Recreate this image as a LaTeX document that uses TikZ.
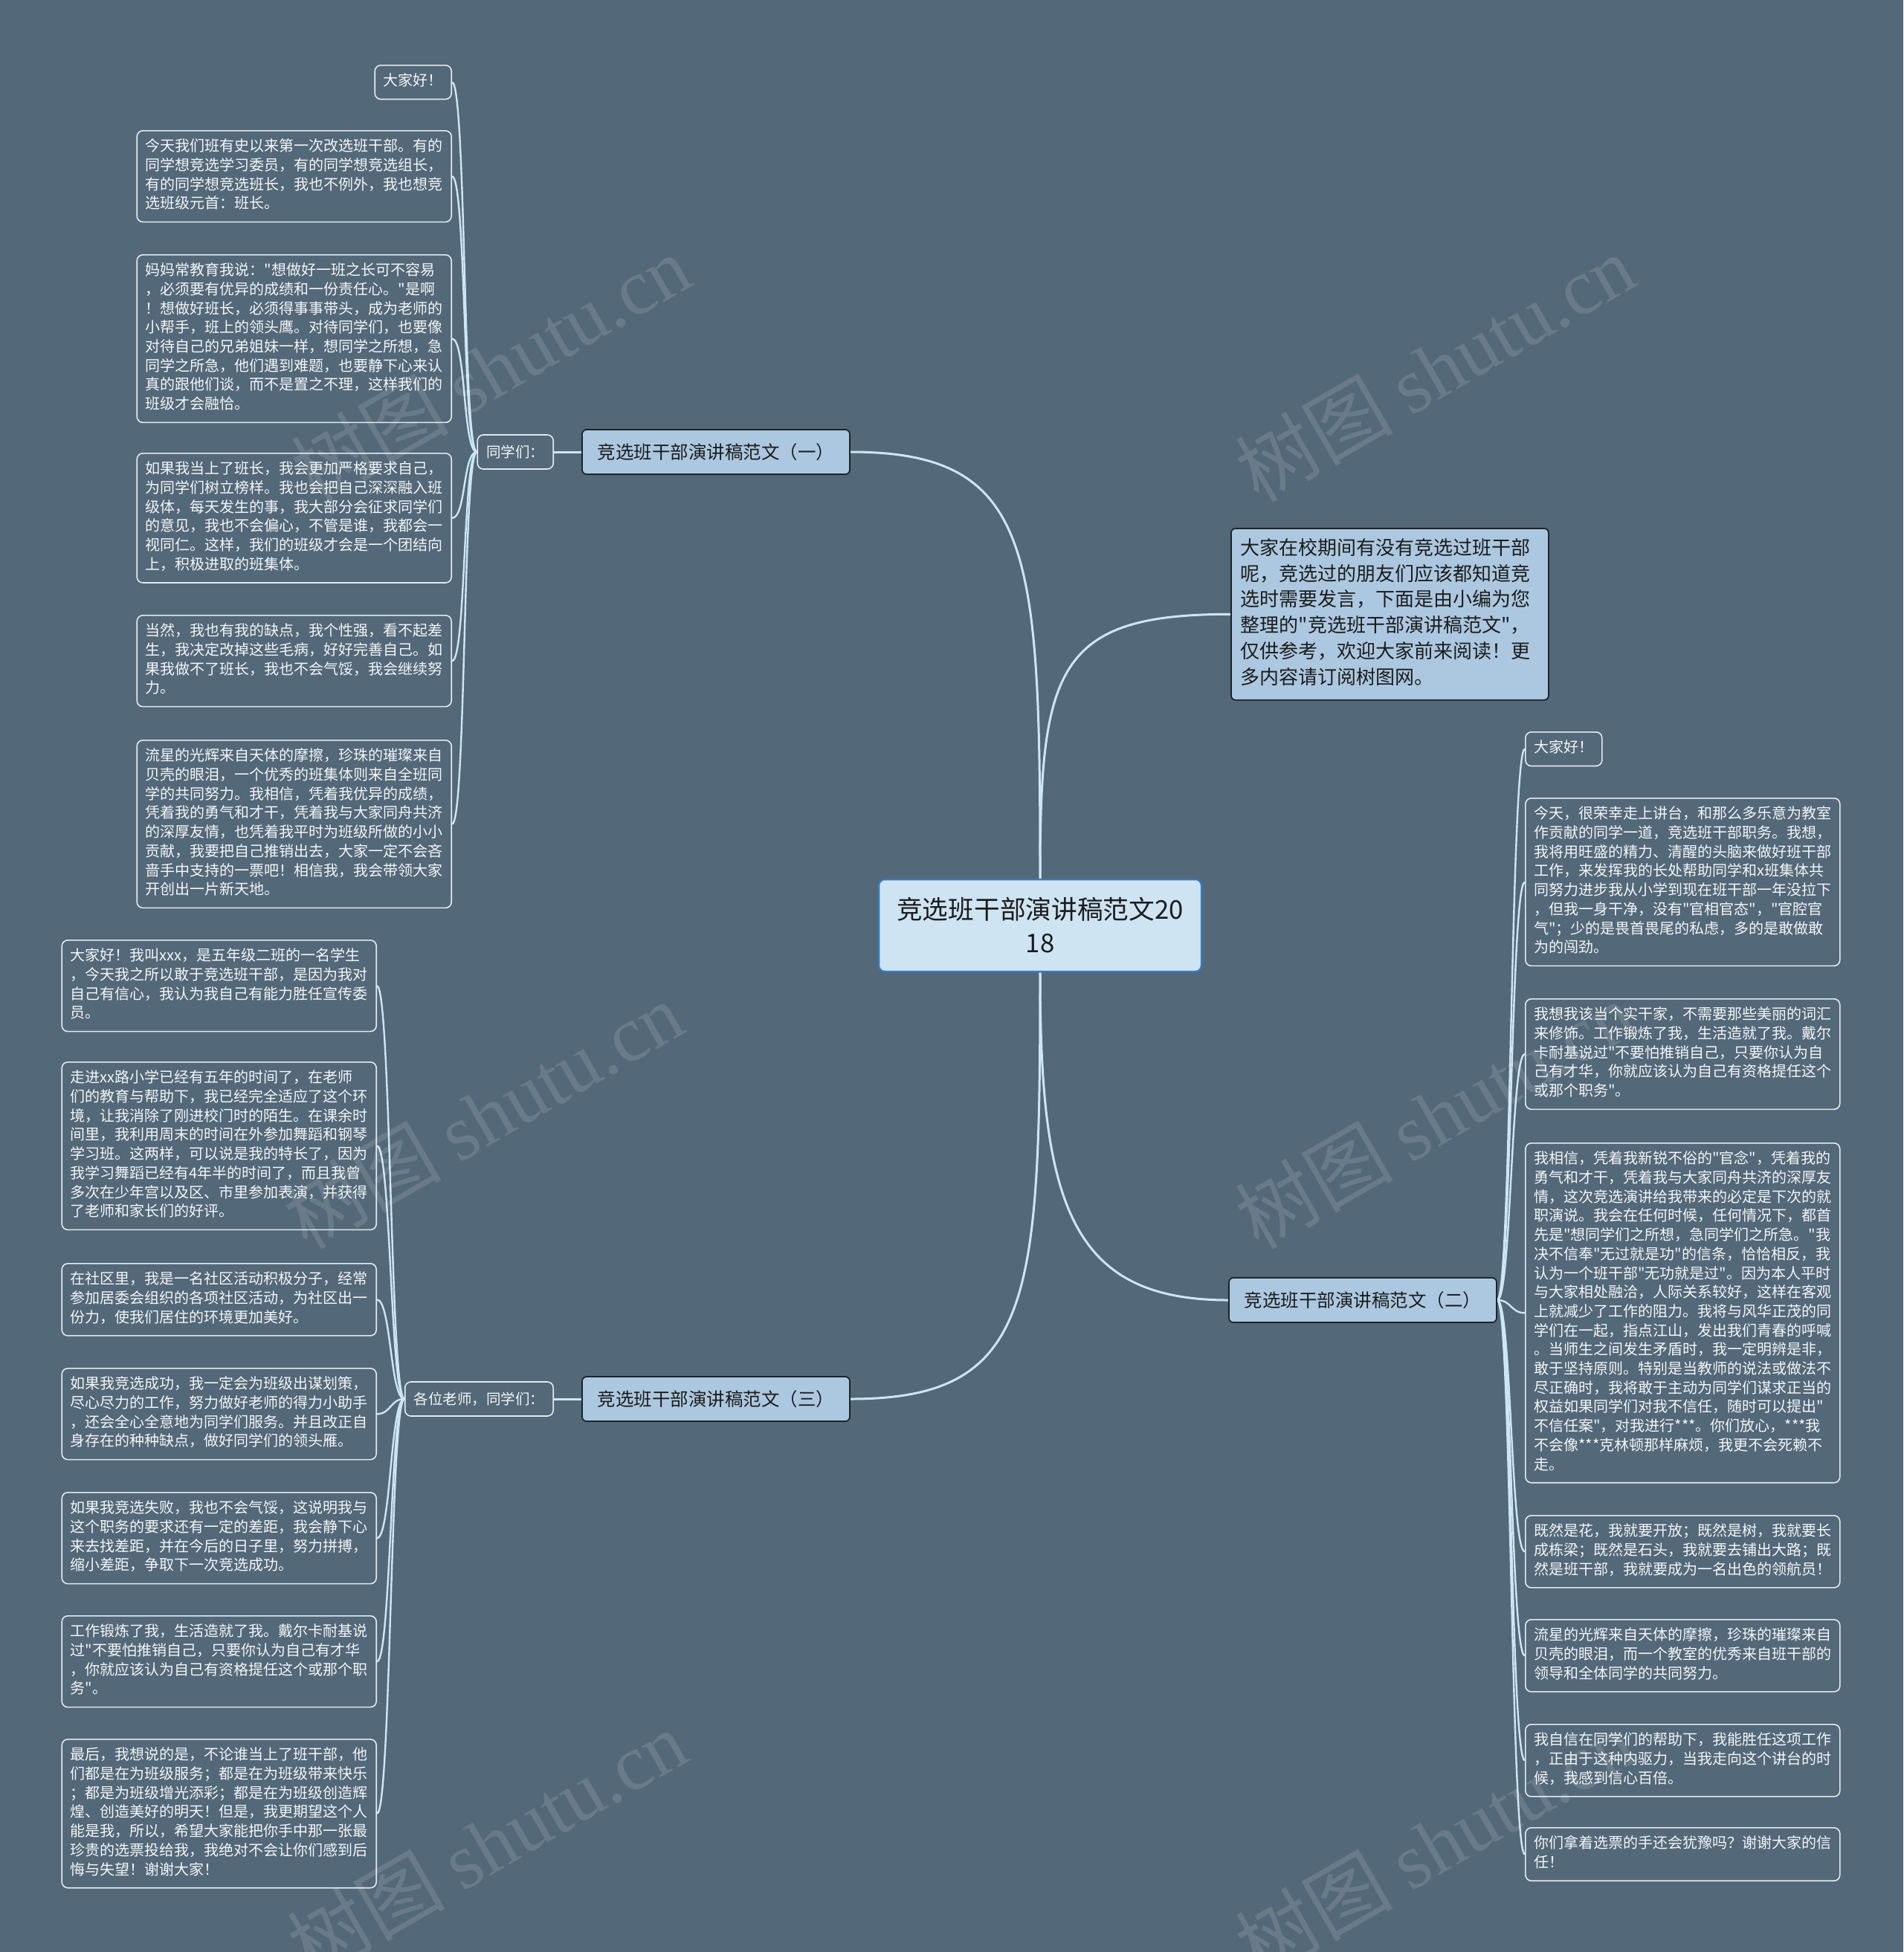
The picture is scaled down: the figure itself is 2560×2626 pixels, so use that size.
\documentclass[tikz,border=0pt]{standalone}
\usepackage{fontspec}
\newfontfamily\cjk{Noto Sans CJK SC}
\newfontfamily\wmserif{Liberation Serif}
\definecolor{bgc}{RGB}{83,104,120}
\definecolor{connc}{RGB}{205,230,245}
\definecolor{leafline}{RGB}{226,234,240}
\definecolor{leaftext}{RGB}{244,246,248}
\definecolor{brfill}{RGB}{172,200,224}
\definecolor{brline}{RGB}{28,36,44}
\definecolor{brtext}{RGB}{28,28,28}
\definecolor{ctrfill}{RGB}{206,228,243}
\definecolor{ctrline}{RGB}{58,120,192}
\pgfdeclarelayer{bgl}
\pgfdeclarelayer{edges}
\pgfsetlayers{bgl,edges,main}
\tikzset{
  leaf/.style={draw=leafline, line width=1.6pt, rounded corners=8pt, text=leaftext,
    font=\cjk\fontsize{20}{25.7}\selectfont, align=left, text width=400pt,
    inner xsep=11.5pt, inner ysep=10pt,
    execute at begin node=\strut, execute at end node=\strut},
  leafshort/.style={draw=leafline, line width=1.6pt, rounded corners=8pt, text=leaftext,
    font=\cjk\fontsize{20}{25.7}\selectfont, inner xsep=11.5pt, inner ysep=10pt,
    execute at begin node=\strut},
  hub/.style={draw=leafline, line width=1.6pt, rounded corners=8pt, text=leaftext,
    font=\cjk\fontsize{19.5}{24}\selectfont, inner xsep=12pt, inner ysep=0pt, minimum height=46pt},
  branch/.style={draw=brline, fill=brfill, line width=1.8pt, rounded corners=6pt, text=brtext,
    font=\cjk\fontsize{24.5}{30}\selectfont, minimum width=360pt, minimum height=60pt, inner sep=0pt},
  intro/.style={draw=brline, fill=brfill, line width=1.8pt, rounded corners=6pt, text=brtext,
    font=\cjk\fontsize{26}{34.8}\selectfont, align=left, text width=401pt,
    inner xsep=13pt, inner ysep=11pt,
    execute at begin node=\strut, execute at end node=\strut},
  rootbox/.style={draw=ctrline, fill=ctrfill, line width=2.5pt, rounded corners=8pt, text=brtext,
    font=\cjk\fontsize{34.7}{45}\selectfont, align=center, minimum width=434pt, minimum height=124pt, inner sep=0pt},
  mainconn/.style={draw=connc, line width=3pt},
  leafconn/.style={draw=connc, line width=2.4pt},
  wm/.style={text=white, opacity=0.13, rotate=30, font=\cjk\fontsize{106}{110}\selectfont, inner sep=0pt}
}
\begin{document}
\begin{tikzpicture}[x=1pt,y=-1pt]
\useasboundingbox (0,0) rectangle (2560,2626);
\begin{pgfonlayer}{bgl}
\fill[bgc] (0,0) rectangle (2560,2626);
\end{pgfonlayer}

% root and branches
\node[rootbox] (ctr) at (1399,1245) {竞选班干部演讲稿范文20\\18};
\node[branch] (b1) at (963,608) {竞选班干部演讲稿范文（一）};
\node[branch] (b2) at (1833,1749) {竞选班干部演讲稿范文（二）};
\node[branch] (b3) at (963,1882) {竞选班干部演讲稿范文（三）};
\node[intro, anchor=north west] (intro) at (1655,710) {大家在校期间有没有竞选过班干部\\呢，竞选过的朋友们应该都知道竞\\选时需要发言，下面是由小编为您\\整理的"竞选班干部演讲稿范文"，\\仅供参考，欢迎大家前来阅读！更\\多内容请订阅树图网。};
\node[hub, anchor=east] (h1) at (745,608) {同学们：};
\node[hub, anchor=east] (h3) at (745,1882) {各位老师，同学们：};

% left-top leaves
\node[leafshort, anchor=north east] (l1) at (608,87) {大家好！};
\node[leaf, anchor=north east] (l2) at (608,175) {今天我们班有史以来第一次改选班干部。有的\\同学想竞选学习委员，有的同学想竞选组长，\\有的同学想竞选班长，我也不例外，我也想竞\\选班级元首：班长。};
\node[leaf, anchor=north east] (l3) at (608,342) {妈妈常教育我说："想做好一班之长可不容易\\，必须要有优异的成绩和一份责任心。"是啊\\！想做好班长，必须得事事带头，成为老师的\\小帮手，班上的领头鹰。对待同学们，也要像\\对待自己的兄弟姐妹一样，想同学之所想，急\\同学之所急，他们遇到难题，也要静下心来认\\真的跟他们谈，而不是置之不理，这样我们的\\班级才会融恰。};
\node[leaf, anchor=north east] (l4) at (608,609) {如果我当上了班长，我会更加严格要求自己，\\为同学们树立榜样。我也会把自己深深融入班\\级体，每天发生的事，我大部分会征求同学们\\的意见，我也不会偏心，不管是谁，我都会一\\视同仁。这样，我们的班级才会是一个团结向\\上，积极进取的班集体。};
\node[leaf, anchor=north east] (l5) at (608,827) {当然，我也有我的缺点，我个性强，看不起差\\生，我决定改掉这些毛病，好好完善自己。如\\果我做不了班长，我也不会气馁，我会继续努\\力。};
\node[leaf, anchor=north east] (l6) at (608,995) {流星的光辉来自天体的摩擦，珍珠的璀璨来自\\贝壳的眼泪，一个优秀的班集体则来自全班同\\学的共同努力。我相信，凭着我优异的成绩，\\凭着我的勇气和才干，凭着我与大家同舟共济\\的深厚友情，也凭着我平时为班级所做的小小\\贡献，我要把自己推销出去，大家一定不会吝\\啬手中支持的一票吧！相信我，我会带领大家\\开创出一片新天地。};

% bottom-left leaves
\node[leaf, anchor=north east] (m1) at (507,1264) {大家好！我叫xxx，是五年级二班的一名学生\\，今天我之所以敢于竞选班干部，是因为我对\\自己有信心，我认为我自己有能力胜任宣传委\\员。};
\node[leaf, anchor=north east] (m2) at (507,1428) {走进xx路小学已经有五年的时间了，在老师\\们的教育与帮助下，我已经完全适应了这个环\\境，让我消除了刚进校门时的陌生。在课余时\\间里，我利用周末的时间在外参加舞蹈和钢琴\\学习班。这两样，可以说是我的特长了，因为\\我学习舞蹈已经有4年半的时间了，而且我曾\\多次在少年宫以及区、市里参加表演，并获得\\了老师和家长们的好评。};
\node[leaf, anchor=north east] (m3) at (507,1699) {在社区里，我是一名社区活动积极分子，经常\\参加居委会组织的各项社区活动，为社区出一\\份力，使我们居住的环境更加美好。};
\node[leaf, anchor=north east] (m4) at (507,1840) {如果我竞选成功，我一定会为班级出谋划策，\\尽心尽力的工作，努力做好老师的得力小助手\\，还会全心全意地为同学们服务。并且改正自\\身存在的种种缺点，做好同学们的领头雁。};
\node[leaf, anchor=north east] (m5) at (507,2007) {如果我竞选失败，我也不会气馁，这说明我与\\这个职务的要求还有一定的差距，我会静下心\\来去找差距，并在今后的日子里，努力拼搏，\\缩小差距，争取下一次竞选成功。};
\node[leaf, anchor=north east] (m6) at (507,2173) {工作锻炼了我，生活造就了我。戴尔卡耐基说\\过"不要怕推销自己，只要你认为自己有才华\\，你就应该认为自己有资格提任这个或那个职\\务"。};
\node[leaf, anchor=north east] (m7) at (507,2339) {最后，我想说的是，不论谁当上了班干部，他\\们都是在为班级服务；都是在为班级带来快乐\\；都是为班级增光添彩；都是在为班级创造辉\\煌、创造美好的明天！但是，我更期望这个人\\能是我，所以，希望大家能把你手中那一张最\\珍贵的选票投给我，我绝对不会让你们感到后\\悔与失望！谢谢大家！};

% right leaves
\node[leafshort, anchor=north west] (r1) at (2051,984) {大家好！};
\node[leaf, anchor=north west] (r2) at (2051,1073) {今天，很荣幸走上讲台，和那么多乐意为教室\\作贡献的同学一道，竞选班干部职务。我想，\\我将用旺盛的精力、清醒的头脑来做好班干部\\工作，来发挥我的长处帮助同学和x班集体共\\同努力进步我从小学到现在班干部一年没拉下\\，但我一身干净，没有"官相官态"，"官腔官\\气"；少的是畏首畏尾的私虑，多的是敢做敢\\为的闯劲。};
\node[leaf, anchor=north west] (r3) at (2051,1343) {我想我该当个实干家，不需要那些美丽的词汇\\来修饰。工作锻炼了我，生活造就了我。戴尔\\卡耐基说过"不要怕推销自己，只要你认为自\\己有才华，你就应该认为自己有资格提任这个\\或那个职务"。};
\node[leaf, anchor=north west] (r4) at (2051,1537) {我相信，凭着我新锐不俗的"官念"，凭着我的\\勇气和才干，凭着我与大家同舟共济的深厚友\\情，这次竞选演讲给我带来的必定是下次的就\\职演说。我会在任何时候，任何情况下，都首\\先是"想同学们之所想，急同学们之所急。"我\\决不信奉"无过就是功"的信条，恰恰相反，我\\认为一个班干部"无功就是过"。因为本人平时\\与大家相处融洽，人际关系较好，这样在客观\\上就减少了工作的阻力。我将与风华正茂的同\\学们在一起，指点江山，发出我们青春的呼喊\\。当师生之间发生矛盾时，我一定明辨是非，\\敢于坚持原则。特别是当教师的说法或做法不\\尽正确时，我将敢于主动为同学们谋求正当的\\权益如果同学们对我不信任，随时可以提出"\\不信任案"，对我进行***。你们放心，***我\\不会像***克林顿那样麻烦，我更不会死赖不\\走。};
\node[leaf, anchor=north west] (r5) at (2051,2038) {既然是花，我就要开放；既然是树，我就要长\\成栋梁；既然是石头，我就要去铺出大路；既\\然是班干部，我就要成为一名出色的领航员！};
\node[leaf, anchor=north west] (r6) at (2051,2178) {流星的光辉来自天体的摩擦，珍珠的璀璨来自\\贝壳的眼泪，而一个教室的优秀来自班干部的\\领导和全体同学的共同努力。};
\node[leaf, anchor=north west] (r7) at (2051,2319) {我自信在同学们的帮助下，我能胜任这项工作\\，正由于这种内驱力，当我走向这个讲台的时\\候，我感到信心百倍。};
\node[leaf, anchor=north west] (r8) at (2051,2458) {你们拿着选票的手还会犹豫吗？谢谢大家的信\\任！};

% connectors
\begin{pgfonlayer}{edges}
\draw[mainconn] (ctr.north) .. controls (1399,740) and (1390,608) .. (b1.east);
\draw[mainconn] (ctr.north) .. controls (1399,900) and (1420,826) .. (intro.west);
\draw[mainconn] (ctr.south) .. controls (1399,1620) and (1440,1749) .. (b2.west);
\draw[mainconn] (ctr.south) .. controls (1399,1750) and (1390,1882) .. (b3.east);
\draw[mainconn] (b1.west) -- (h1.east);
\draw[mainconn] (b3.west) -- (h3.east);
\foreach \n in {l1,l2,l3,l4,l5,l6}
  \draw[leafconn] (h1.west) .. controls +(-19,0) and +(19,0) .. (\n.east);
\foreach \n in {m1,m2,m3,m4,m5,m6,m7}
  \draw[leafconn] (h3.west) .. controls +(-19,0) and +(19,0) .. (\n.east);
\foreach \n in {r1,r2,r3,r4,r5,r6,r7,r8}
  \draw[leafconn] (b2.east) .. controls +(19,0) and +(-19,0) .. (\n.west);
\end{pgfonlayer}

% watermarks
\node[wm] (w1) at (660,495) {树图 {\wmserif shutu.cn}};
\node[wm] (w2) at (1930,495) {树图 {\wmserif shutu.cn}};
\node[wm] (w3) at (650,1500) {树图 {\wmserif shutu.cn}};
\node[wm] (w4) at (1930,1500) {树图 {\wmserif shutu.cn}};
\node[wm] (w5) at (655,2480) {树图 {\wmserif shutu.cn}};
\node[wm] (w6) at (1930,2480) {树图 {\wmserif shutu.cn}};
\end{tikzpicture}
\end{document}
